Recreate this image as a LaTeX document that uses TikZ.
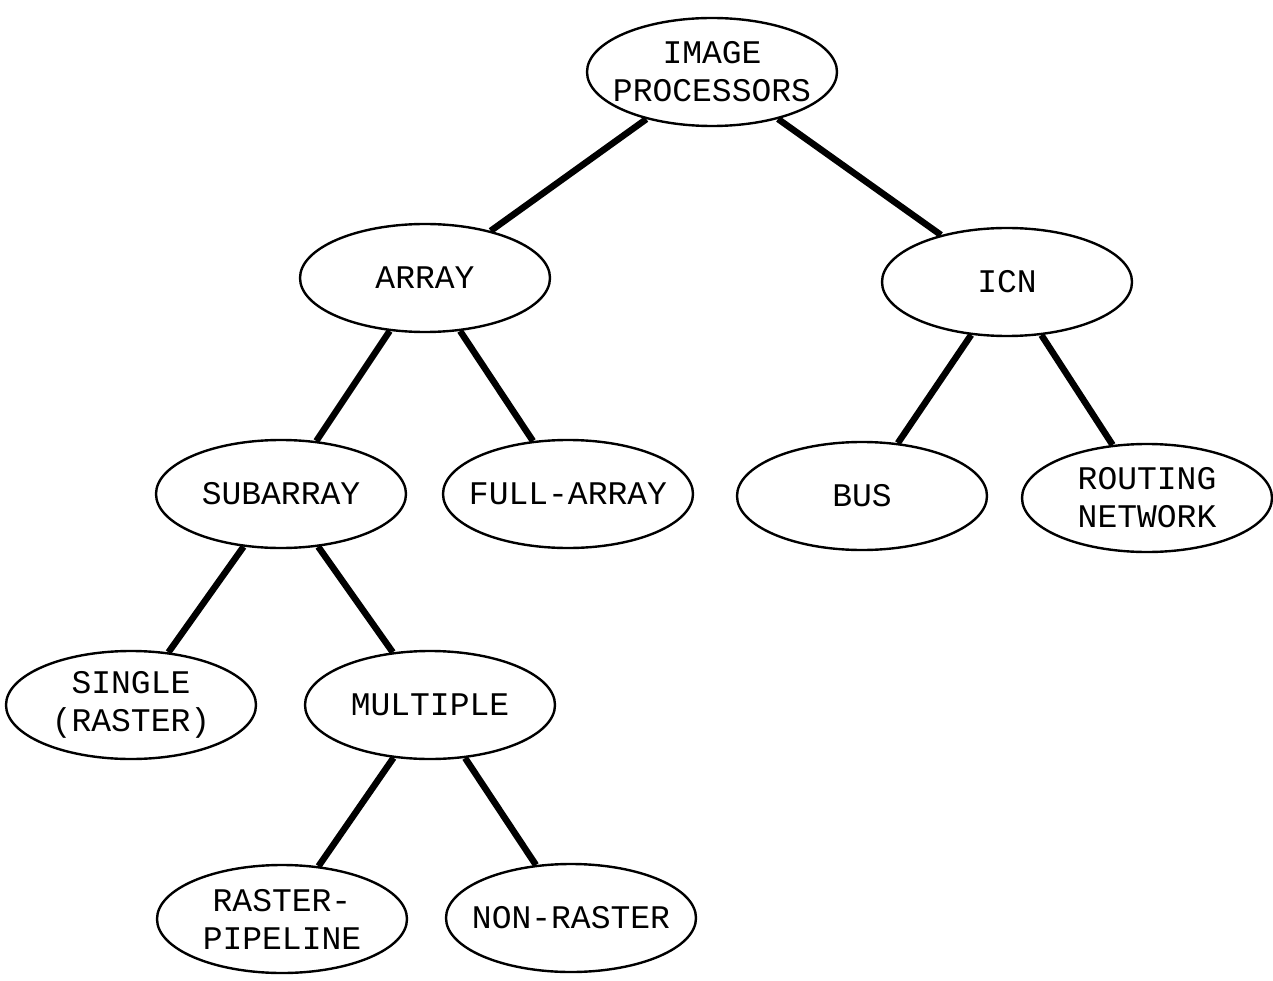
\documentclass[tikz,border=0pt]{standalone}
\usepackage{fontspec}
\setmainfont{Liberation Mono}
\usetikzlibrary{shapes.geometric}
\begin{document}
\begin{tikzpicture}[x=1pt,y=-1pt,
  oval/.style={ellipse,draw,line width=2.4pt,minimum width=250pt,minimum height=108pt,inner xsep=-40pt,inner ysep=0pt,align=center,font=\fontsize{33}{38}\selectfont},
  edge/.style={line width=6.5pt}]
\useasboundingbox (0,0) rectangle (1273,981);
\node[oval] (img) at (712,72) {IMAGE\\PROCESSORS};
\node[oval] (arr) at (425,278) {ARRAY};
\node[oval] (icn) at (1007,282) {ICN};
\node[oval] (sub) at (281,494) {SUBARRAY};
\node[oval] (full) at (568,494) {FULL-ARRAY};
\node[oval] (bus) at (862,496) {BUS};
\node[oval] (rout) at (1147,498) {ROUTING\\NETWORK};
\node[oval] (sing) at (131,705) {SINGLE\\(RASTER)};
\node[oval] (mult) at (430,705) {MULTIPLE};
\node[oval] (rp) at (282,919) {RASTER-\\PIPELINE};
\node[oval] (nr) at (571,918) {NON-RASTER};
\draw[edge] (img) -- (arr);
\draw[edge] (img) -- (icn);
\draw[edge] (arr) -- (sub);
\draw[edge] (arr) -- (full);
\draw[edge] (icn) -- (bus);
\draw[edge] (icn) -- (rout);
\draw[edge] (sub) -- (sing);
\draw[edge] (sub) -- (mult);
\draw[edge] (mult) -- (rp);
\draw[edge] (mult) -- (nr);
\end{tikzpicture}
\end{document}
